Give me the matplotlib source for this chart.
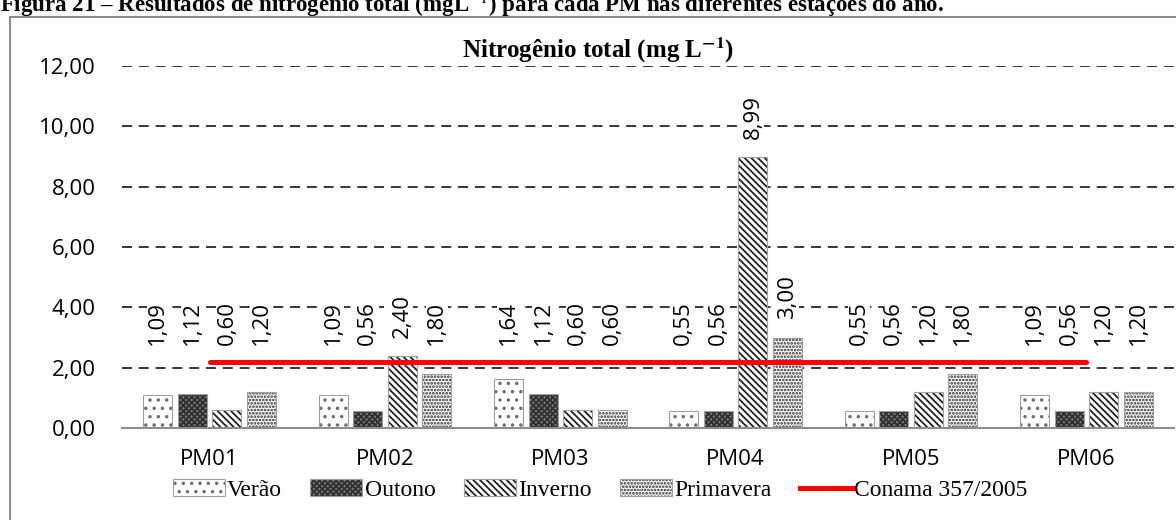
import numpy as np
import matplotlib
matplotlib.use('Agg')
import matplotlib.pyplot as plt
from matplotlib.patches import Patch, Rectangle
from matplotlib.lines import Line2D
from matplotlib.legend_handler import HandlerTuple

# Nitrogênio total por ponto de monitoramento e estação do ano (mg/L)
pontos = ['PM01', 'PM02', 'PM03', 'PM04', 'PM05', 'PM06']
estacoes = ['Verão', 'Outono', 'Inverno', 'Primavera']
verao = [1.09, 1.09, 1.64, 0.55, 0.55, 1.09]
outono = [1.12, 0.56, 1.12, 0.56, 0.56, 0.56]
inverno = [0.60, 2.40, 0.60, 8.99, 1.20, 1.20]
primavera = [1.20, 1.80, 0.60, 3.00, 1.80, 1.20]
conama = 2.18
conama_label = 'Conama 357/2005'
y_ticks = [0, 2, 4, 6, 8, 10, 12]

plt.rcParams['hatch.linewidth'] = 1.3
plt.rcParams['mathtext.fontset'] = 'stix'

# fill colour, hatch, hatch colour for each season
estilos = [
    ('white', '..', '#707070'),
    ('#7a7a7a', 'xxxxxx', '#303030'),
    ('white', '\\\\\\\\\\', '#202020'),
    ('white', '.....', '#2a2a2a'),
]
borda = '#a0a0a0'

fig = plt.figure(figsize=(11.76, 5.2), dpi=100)
ax = fig.add_axes([122 / 1176, 92 / 520, 1052 / 1176, 362 / 520])

x = np.arange(len(pontos))
largura = 0.165
passo = 0.197
series = [verao, outono, inverno, primavera]

for i, (vals, (fc, hatch, hc)) in enumerate(zip(series, estilos)):
    pos = x + (i - 1.5) * passo
    ax.bar(pos, vals, width=largura, color=fc, hatch=hatch, edgecolor=hc,
           linewidth=0, zorder=2)
    ax.bar(pos, vals, width=largura, fill=False, edgecolor=borda,
           linewidth=0.8, zorder=3)
    for p, v in zip(pos, vals):
        ax.annotate(f'{v:.2f}'.replace('.', ','), (p, max(v, 2.15)),
                    xytext=(0, 13), textcoords='offset points',
                    rotation=90, ha='center', va='bottom',
                    fontsize=16, family='Open Sans', zorder=4,
                    bbox=dict(facecolor='white', edgecolor='none', pad=0.5))

# reference limit line across the sampling points
ax.plot(x, [conama] * len(x), color='red', linewidth=3.6, zorder=5,
        solid_capstyle='round')

ax.set_xlim(-0.5, len(pontos) - 0.5)
ax.set_ylim(0, 12)
ax.set_yticks(y_ticks)
ax.set_yticklabels([f'{t:.2f}'.replace('.', ',') for t in y_ticks],
                   family='Open Sans', fontsize=16)
ax.set_xticks(x)
ax.set_xticklabels(pontos, family='Open Sans', fontsize=16)
ax.tick_params(axis='y', length=0, pad=19)
ax.tick_params(axis='x', length=0, pad=15)
ax.grid(axis='y', color='black', linestyle=(0, (6.5, 4.5)), linewidth=1.1,
        zorder=1)
ax.set_axisbelow(True)
for s in ['left', 'right', 'top']:
    ax.spines[s].set_visible(False)
ax.spines['bottom'].set_color('#8c8c8c')
ax.spines['bottom'].set_linewidth(1.5)

# chart border and captions
fig.patches.append(Rectangle((10 / 1176, -0.1), 1.2, 1 - 17 / 520 + 0.1,
                             transform=fig.transFigure, fill=False,
                             edgecolor='#8c8c8c', linewidth=1.5))
fig.text(0, 1 - 12 / 520,
         'Figura 21 – Resultados de nitrogênio total (mgL$^{-1}$) para cada '
         'PM nas diferentes estações do ano.',
         family='Liberation Serif', weight='bold', fontsize=16.5,
         ha='left', va='baseline')
fig.text(598 / 1176, 1 - 50 / 520, r'Nitrogênio total (mg L$^{\mathbf{-1}}$)',
         family='Liberation Serif', weight='bold', fontsize=18,
         ha='center', va='center')

handles = [(Patch(facecolor=fc, hatch=h, edgecolor=hc, linewidth=0),
            Patch(fill=False, edgecolor=borda, linewidth=0.8))
           for fc, h, hc in estilos]
handles.append(Line2D([0], [0], color='red', linewidth=3.6))
fig.legend(handles, estacoes + [conama_label], loc='center',
           bbox_to_anchor=(600 / 1176, 30 / 520), ncol=5, frameon=False,
           prop={'family': 'Liberation Serif', 'size': 17},
           handlelength=2.2, handletextpad=0.1, columnspacing=1.2,
           handler_map={tuple: HandlerTuple(ndivide=1)})

fig.savefig('out.png', dpi=100)
